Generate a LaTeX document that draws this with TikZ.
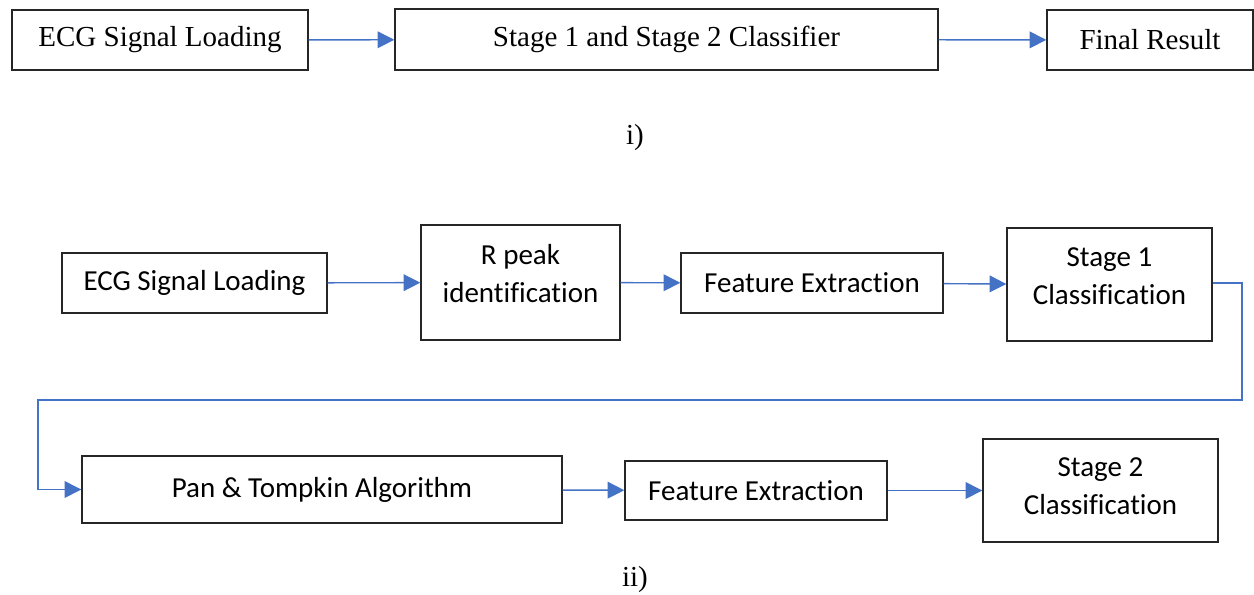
\documentclass[tikz,border=0pt]{standalone}
\usepackage{fontspec}
\setmainfont{Liberation Serif}
\newfontfamily\calibrifont[Ligatures=NoCommon]{Carlito}
\usetikzlibrary{arrows.meta}

\definecolor{arrowColor}{RGB}{68,114,196}

\tikzset{
  stepbox/.style={draw=black!85, line width=0.8pt, inner sep=2pt, align=center},
  serifbox/.style={stepbox, font=\fontsize{16.5}{19}\selectfont},
  sansbox/.style={stepbox, font=\calibrifont\fontsize{16.5}{21.5}\selectfont},
  flow/.style={draw=arrowColor, line width=0.8pt, -{Triangle[length=9.5pt,width=9.5pt]}}
}

\begin{document}
\begin{tikzpicture}
  \useasboundingbox (0,0) rectangle (25.08,-11.88);
  % Top row
  \node[serifbox, minimum width=5.92cm, minimum height=1.2cm] (loadA) at (3.2,-0.8) {ECG Signal Loading};
  \node[serifbox, minimum width=10.86cm, minimum height=1.22cm] (classA) at (13.33,-0.79) {Stage 1 and Stage 2 Classifier};
  \node[serifbox, minimum width=4.12cm, minimum height=1.2cm] (result) at (23.0,-0.8) {Final Result};
  \draw[flow] (loadA) -- (classA);
  \draw[flow] (classA) -- (result);
  \node[font=\fontsize{16.5}{19}\selectfont] (capA) at (12.7,-2.76) {i)};
  % Bottom row
  \node[sansbox, minimum width=5.3cm, minimum height=1.2cm] (loadB) at (3.89,-5.66) {ECG Signal Loading};
  \node[sansbox, minimum width=3.98cm, minimum height=2.3cm, text depth=10.5pt] (rpeak) at (10.41,-5.65) {R peak\\identification};
  \node[sansbox, minimum width=5.24cm, minimum height=1.2cm] (featA) at (16.24,-5.66) {Feature Extraction};
  \node[sansbox, minimum width=4.1cm, minimum height=2.26cm, text depth=9.5pt] (stageA) at (22.19,-5.69) {Stage 1\\Classification};
  \node[sansbox, minimum width=9.6cm, minimum height=1.34cm] (pan) at (6.44,-9.79) {Pan \& Tompkin Algorithm};
  \node[sansbox, minimum width=5.24cm, minimum height=1.18cm] (featB) at (15.12,-9.81) {Feature Extraction};
  \node[sansbox, minimum width=4.7cm, minimum height=2.06cm, text depth=5pt] (stageB) at (22.01,-9.81) {Stage 2\\Classification};
  \coordinate (turnR) at (24.84,-5.66);
  \coordinate (turnL) at (0.76,-8.0);
  \draw[flow] (loadB) -- (rpeak);
  \draw[flow] (rpeak) -- (featA);
  \draw[flow] (featA) -- (stageA);
  \draw[flow] (stageA.east |- turnR) -- (turnR) |- (turnL) |- (pan.west);
  \draw[flow] (pan) -- (featB);
  \draw[flow] (featB) -- (stageB);
  \node[font=\fontsize{16.5}{19}\selectfont] (capB) at (12.7,-11.6) {ii)};
\end{tikzpicture}
\end{document}
